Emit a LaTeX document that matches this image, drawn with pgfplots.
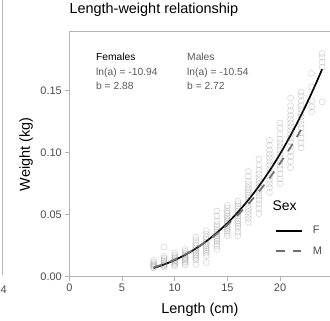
\documentclass[border=0pt]{standalone}
\usepackage{pgfplots}
\pgfplotsset{compat=1.18}
\usepackage{fontspec}
\setmainfont{Liberation Sans}
\usetikzlibrary{calc}
\definecolor{bordergray}{RGB}{179,179,179}
\definecolor{textgray}{RGB}{77,77,77}
\definecolor{annogray}{RGB}{90,90,90}
\definecolor{mline}{RGB}{110,110,110}
\begin{document}
\begin{tikzpicture}
\begin{axis}[
  scale only axis, width=261.2bp, height=245bp,
  xmin=0, xmax=24.8, ymin=0, ymax=0.1976,
  axis line style={bordergray, line width=0.8bp},
  tick style={bordergray, line width=0.8bp},
  tick align=outside, major tick length=4bp,
  xtick pos=lower, ytick pos=left,
  xtick={0,5,10,15,20}, xticklabels={0,5,10,15,20},
  ytick={0,0.05,0.1,0.15}, yticklabels={0.00,0.05,0.10,0.15},
  ticklabel style={font=\fontsize{11}{11}\selectfont, text=textgray},
  xlabel={Length (cm)}, ylabel={Weight (kg)},
  label style={font=\fontsize{14.5}{14.5}\selectfont, inner sep=0pt},
  xlabel style={at={(axis description cs:0.5,-0.1494)}, anchor=base},
  ylabel style={at={(axis description cs:-0.1505,0.5)}, anchor=base},
  title={Length-weight relationship},
  title style={at={(axis description cs:0,1.0506)}, anchor=base west, inner sep=0pt, font=\fontsize{14.5}{14.5}\selectfont},
  legend image code/.code={\draw[#1] (0bp,0bp) -- (26bp,0bp); \path (34bp,0bp);},
  legend style={draw=none, fill=none, at={(axis cs:19.52,0.0425)}, anchor=north west,
    inner sep=0pt, row sep=7.5bp, font=\fontsize{11}{11}\selectfont, text=textgray,
    cells={anchor=west}},
]
\addplot[only marks, mark=o, mark size=3bp, mark options={draw=black!55, draw opacity=0.28, line width=0.6bp}, forget plot] table {
x y
8 0.0072
8 0.0080
8 0.0088
8 0.0095
8 0.0105
8 0.0118
8 0.0132
9 0.0078
9 0.0088
9 0.0096
9 0.0105
9 0.0115
9 0.0125
9 0.0138
9 0.0150
9 0.0165
9 0.0240
10 0.0085
10 0.0098
10 0.0108
10 0.0118
10 0.0128
10 0.0138
10 0.0150
10 0.0162
10 0.0175
10 0.0190
11 0.0095
11 0.0110
11 0.0122
11 0.0135
11 0.0145
11 0.0155
11 0.0165
11 0.0178
11 0.0190
11 0.0205
11 0.0220
12 0.0100
12 0.0135
12 0.0150
12 0.0165
12 0.0180
12 0.0192
12 0.0205
12 0.0218
12 0.0232
12 0.0250
12 0.0270
12 0.0295
12 0.0320
13 0.0115
13 0.0170
13 0.0190
13 0.0205
13 0.0220
13 0.0235
13 0.0250
13 0.0265
13 0.0280
13 0.0300
13 0.0320
13 0.0345
13 0.0370
14 0.0220
14 0.0245
14 0.0265
14 0.0285
14 0.0300
14 0.0315
14 0.0330
14 0.0345
14 0.0360
14 0.0380
14 0.0400
14 0.0420
14 0.0450
14 0.0490
14 0.0530
15 0.0330
15 0.0350
15 0.0370
15 0.0385
15 0.0400
15 0.0415
15 0.0430
15 0.0445
15 0.0460
15 0.0475
15 0.0490
15 0.0510
15 0.0530
15 0.0555
15 0.0575
16 0.0330
16 0.0360
16 0.0390
16 0.0410
16 0.0430
16 0.0450
16 0.0470
16 0.0490
16 0.0510
16 0.0530
16 0.0550
16 0.0570
16 0.0590
16 0.0610
17 0.0440
17 0.0470
17 0.0500
17 0.0525
17 0.0550
17 0.0575
17 0.0600
17 0.0620
17 0.0640
17 0.0660
17 0.0680
17 0.0700
17 0.0720
17 0.0745
17 0.0770
17 0.0810
17 0.0850
18 0.0510
18 0.0550
18 0.0590
18 0.0620
18 0.0650
18 0.0675
18 0.0700
18 0.0725
18 0.0750
18 0.0775
18 0.0800
18 0.0830
18 0.0860
18 0.0900
18 0.0950
19 0.0680
19 0.0720
19 0.0750
19 0.0780
19 0.0810
19 0.0840
19 0.0870
19 0.0900
19 0.0930
19 0.0960
19 0.0990
19 0.1020
19 0.1060
19 0.1100
20 0.0750
20 0.0790
20 0.0830
20 0.0870
20 0.0900
20 0.0930
20 0.0960
20 0.0990
20 0.1020
20 0.1050
20 0.1080
20 0.1110
20 0.1150
20 0.1200
20 0.1240
21 0.0880
21 0.0930
21 0.0970
21 0.1010
21 0.1050
21 0.1090
21 0.1120
21 0.1150
21 0.1180
21 0.1210
21 0.1240
21 0.1270
21 0.1300
21 0.1340
21 0.1380
21 0.1440
22 0.1040
22 0.1080
22 0.1120
22 0.1160
22 0.1200
22 0.1230
22 0.1260
22 0.1290
22 0.1320
22 0.1350
22 0.1380
22 0.1420
22 0.1460
22 0.1490
23 0.1330
23 0.1370
23 0.1420
23 0.1530
23 0.1640
24 0.1410
24 0.1690
24 0.1730
24 0.1770
24 0.1800
};
\addplot[black, line width=1.7bp] coordinates {
(8,0.007075) (8.5,0.008424) (9,0.009932) (9.5,0.011604) (10,0.013453)
(10.5,0.015483) (11,0.017702) (11.5,0.020120) (12,0.022744) (12.5,0.025581)
(13,0.028641) (13.5,0.031925) (14,0.035454) (14.5,0.039225) (15,0.043248)
(15.5,0.047530) (16,0.052082) (16.5,0.056908) (17,0.062016) (17.5,0.067418)
(18,0.073115) (18.5,0.079118) (19,0.085426) (19.5,0.092071) (20,0.099033)
(20.5,0.106334) (21,0.113973) (21.5,0.121968) (22,0.130316) (22.5,0.139031)
(23,0.148111) (23.5,0.157577) (24,0.167424)
};
\addlegendentry{F}
\addplot[mline, line width=1.7bp, dash pattern=on 8.5bp off 8bp, smooth] coordinates {
(8,0.0075673) (9,0.010425) (10,0.013884) (11,0.017994) (12,0.022798)
(13,0.028344) (14,0.034674) (15,0.041831) (16,0.049859) (17,0.058797)
(18,0.068688) (19,0.079570) (20,0.091484) (21,0.104466) (22,0.118556)
};
\addlegendentry{M}
\node[anchor=base west, inner sep=0pt, font=\fontsize{10.3}{10.3}\selectfont, text=black] at (axis cs:2.53,0.17476) {Females};
\node[anchor=base west, inner sep=0pt, font=\fontsize{10.3}{10.3}\selectfont, text=annogray] at (axis cs:2.53,0.16266) {ln(a) = -10.94};
\node[anchor=base west, inner sep=0pt, font=\fontsize{10.3}{10.3}\selectfont, text=annogray] at (axis cs:2.53,0.15113) {b = 2.88};
\node[anchor=base west, inner sep=0pt, font=\fontsize{10.3}{10.3}\selectfont, text=annogray] at (axis cs:11.17,0.17476) {Males};
\node[anchor=base west, inner sep=0pt, font=\fontsize{10.3}{10.3}\selectfont, text=annogray] at (axis cs:11.17,0.16266) {ln(a) = -10.54};
\node[anchor=base west, inner sep=0pt, font=\fontsize{10.3}{10.3}\selectfont, text=annogray] at (axis cs:11.17,0.15113) {b = 2.72};
\node[anchor=base west, inner sep=0pt, font=\fontsize{14}{14}\selectfont] at (axis cs:19.28,0.0538) {Sex};
\end{axis}
\draw[bordergray, line width=0.8bp] ($(current axis.south west)+(-66.6bp,1.5bp)$) -- ($(current axis.north west)+(-66.6bp,32bp)$);
\node[anchor=base east, inner sep=0pt, font=\fontsize{11}{11}\selectfont, text=textgray] at ($(current axis.south west)+(-62.3bp,-16.6bp)$) {24};
\pgfresetboundingbox
\path[use as bounding box] ($(current axis.south west)+(-69.3bp,-43.3bp)$) rectangle ($(current axis.north east)+(-0.6bp,31.7bp)$);
\end{tikzpicture}
\end{document}
